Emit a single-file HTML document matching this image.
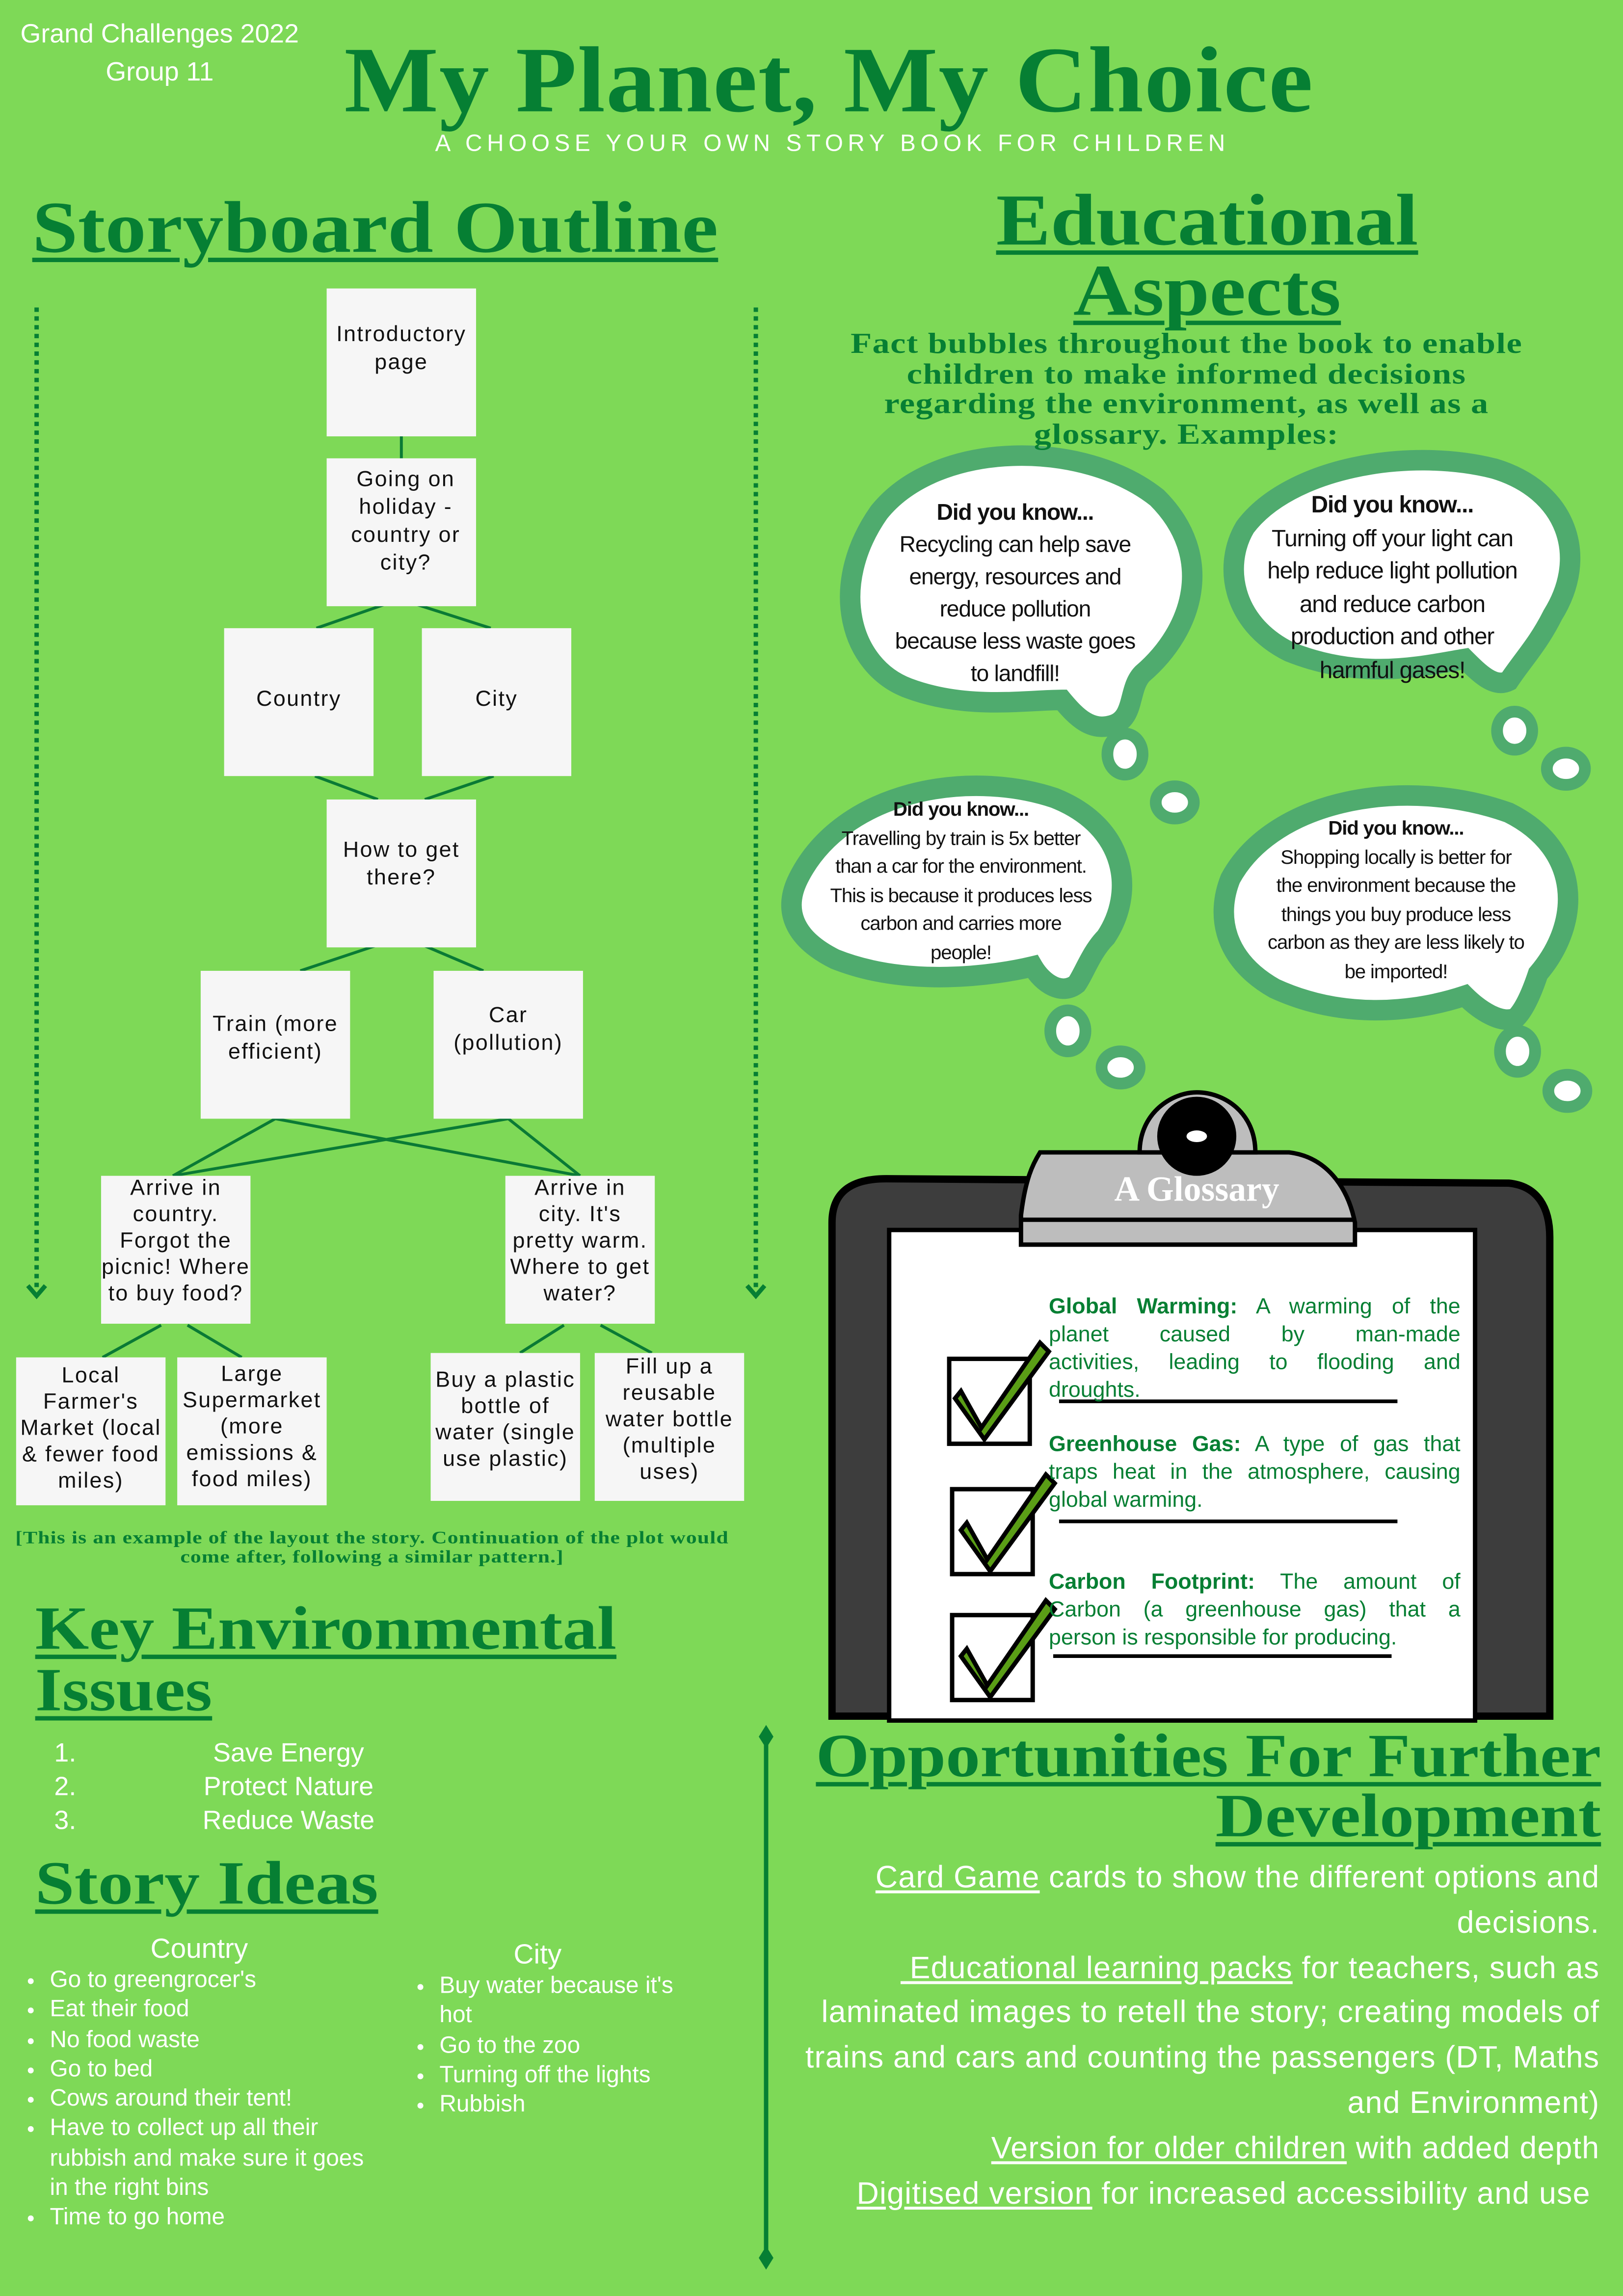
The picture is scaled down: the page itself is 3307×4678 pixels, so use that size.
<!DOCTYPE html>
<html><head><meta charset="utf-8"><style>
html,body{margin:0;padding:0;}
body{width:3307px;height:4678px;overflow:hidden;background:#7ed957;}
#d{position:absolute;left:0;top:0;width:1108px;height:1568px;transform:scale(2.9847,2.9834);transform-origin:0 0;background:#7ed957;font-family:"Liberation Sans",sans-serif;}
.a{position:absolute;}
.h{position:absolute;font-family:"Liberation Serif",serif;font-weight:bold;color:#067f33;text-decoration:underline;text-decoration-thickness:3px;text-underline-offset:4px;white-space:nowrap;transform-origin:0 0;}
.box{position:absolute;background:#f6f6f6;width:102px;height:101px;font-family:"Liberation Sans",sans-serif;font-size:15px;line-height:19px;text-align:center;color:#111;box-sizing:border-box;padding-top:2px;letter-spacing:0.8px;white-space:nowrap;}
.w{color:#fff;}
.bub{position:absolute;text-align:center;color:#111;white-space:nowrap;letter-spacing:-0.4px;}
ul{margin:0;padding-left:18px;}
.g div{text-align:justify;text-align-last:justify;height:19px;}
.g div.l{text-align-last:left;}
</style></head><body><div id="d">

<div class="a w" style="left:9px;top:10px;font-size:18px;line-height:26px;text-align:center;width:200px;">Grand Challenges 2022<br>Group 11</div>
<div class="h" style="left:235px;top:18px;font-size:64px;text-decoration:none;transform:scaleX(1.065);letter-spacing:0.5px;">My Planet, My Choice</div>
<div class="a w" style="left:297px;top:90px;font-size:16px;letter-spacing:3.2px;white-space:nowrap;">A CHOOSE YOUR OWN STORY BOOK FOR CHILDREN</div>

<div class="h" style="left:22px;top:126px;font-size:50px;transform:scaleX(1.12);">Storyboard Outline</div>

<svg class="a" style="left:0;top:0" width="1108" height="1568">
 <g stroke="#067f33" stroke-width="3" fill="none">
  <line x1="25" y1="210" x2="25" y2="880" stroke-dasharray="3,3"/>
  <polyline points="19,878 25,885 31,878"/>
  <line x1="516" y1="210" x2="516" y2="880" stroke-dasharray="3,3"/>
  <polyline points="510,878 516,885 522,878"/>
 </g>
 <g stroke="#0a7a35" stroke-width="2">
  <line x1="274" y1="298" x2="274" y2="313"/>
  <line x1="262" y1="413" x2="216" y2="429"/><line x1="285" y1="413" x2="335" y2="429"/>
  <line x1="215" y1="530" x2="258" y2="546"/><line x1="337" y1="530" x2="290" y2="546"/>
  <line x1="256" y1="646" x2="205" y2="663"/><line x1="290" y1="646" x2="330" y2="663"/>
  <line x1="188" y1="764" x2="118" y2="803"/><line x1="188" y1="764" x2="396" y2="803"/>
  <line x1="347" y1="764" x2="118" y2="803"/><line x1="347" y1="764" x2="396" y2="803"/>
  <line x1="110" y1="905" x2="70" y2="927"/><line x1="128" y1="905" x2="165" y2="927"/>
  <line x1="385" y1="905" x2="355" y2="924"/><line x1="410" y1="905" x2="445" y2="924"/>
 </g>
 <g fill="#067f33">
  <rect x="521.5" y="1185" width="3" height="355"/>
  <polygon points="523,1178 528,1186 523,1194 518,1186"/>
  <polygon points="523,1534 528,1542 523,1550 518,1542"/>
 </g>
 <g stroke="#4fab6e" stroke-width="14" fill="#fff">
  <path d="M600,350 C640,300 740,300 790,340 C830,380 815,430 780,460 C770,470 775,490 760,495 C745,500 735,490 725,478 C700,478 660,485 620,470 C580,455 565,400 600,350 Z"/>
  <path d="M850,360 C880,320 960,305 1020,320 C1070,335 1085,380 1060,420 C1050,440 1040,450 1030,465 C1020,470 1010,460 1000,450 C970,455 930,465 880,445 C840,425 835,385 850,360 Z"/>
  <path d="M545,600 C575,540 660,525 720,545 C770,565 775,610 755,640 C745,650 740,665 735,672 C725,680 712,672 705,660 C680,666 620,675 570,655 C540,640 535,620 545,600 Z"/>
  <path d="M840,600 C870,545 960,530 1030,555 C1080,580 1080,630 1050,665 C1045,680 1040,690 1035,695 C1025,700 1010,690 1000,680 C970,690 920,698 870,675 C835,655 830,625 840,600 Z"/>
 </g>
 <g stroke="#4fab6e" stroke-width="8" fill="#fff">
  <ellipse cx="768" cy="515" rx="12" ry="14"/><ellipse cx="802" cy="548" rx="13" ry="11"/>
  <ellipse cx="1034" cy="499" rx="12" ry="13"/><ellipse cx="1069" cy="525" rx="13" ry="11"/>
  <ellipse cx="729" cy="704" rx="12" ry="14"/><ellipse cx="765" cy="729" rx="13" ry="11"/>
  <ellipse cx="1036" cy="718" rx="12" ry="14"/><ellipse cx="1070" cy="745" rx="13" ry="11"/>
 </g>
 <path d="M568,835 C568,815 580,805 605,805 L1030,808 C1050,810 1058,825 1058,845 L1058,1172 L568,1172 Z" fill="#3d3d3d" stroke="#000" stroke-width="5"/>
 <rect x="607" y="840" width="400" height="335" fill="#fff" stroke="#000" stroke-width="3"/>
 <path d="M710,787 L880,787 C905,790 920,810 925,835 L925,850 L697,850 L697,830 C700,805 705,795 710,787 Z" fill="#bdbdbd" stroke="#000" stroke-width="3"/>
 <line x1="697" y1="833" x2="925" y2="833" stroke="#000" stroke-width="3"/>
 <path d="M778,787 C778,760 800,746 817,746 C836,746 857,760 857,787 Z" fill="#bdbdbd" stroke="#000" stroke-width="3"/>
 <circle cx="817" cy="776" r="27" fill="#000"/>
 <ellipse cx="817" cy="776" rx="7" ry="4" fill="#fff"/>
 <g stroke="#000" stroke-width="2.5">
  <line x1="723" y1="957" x2="954" y2="957"/>
  <line x1="723" y1="1039" x2="954" y2="1039"/>
  <line x1="719" y1="1131" x2="950" y2="1131"/>
 </g>
 <g>
  <rect x="648" y="928" width="55" height="58" fill="#fff" stroke="#000" stroke-width="3"/>
  <rect x="650" y="1017" width="55" height="58" fill="#fff" stroke="#000" stroke-width="3"/>
  <rect x="650" y="1103" width="55" height="58" fill="#fff" stroke="#000" stroke-width="3"/>
  <path d="M656,950 L670,975 L710,917 L716,923 L672,983 L652,955 Z" fill="#5a9e16" stroke="#000" stroke-width="3"/>
  <path d="M660,1040 L674,1065 L714,1007 L720,1013 L676,1073 L656,1045 Z" fill="#5a9e16" stroke="#000" stroke-width="3"/>
  <path d="M660,1126 L674,1151 L714,1093 L720,1099 L676,1159 L656,1131 Z" fill="#5a9e16" stroke="#000" stroke-width="3"/>
 </g>
</svg>

<div class="box" style="left:223px;top:197px;padding-top:22px;">Introductory<br>page</div>
<div class="box" style="left:223px;top:313px;padding:5px 0 0 6px;">Going on<br>holiday -<br>country or<br>city?</div>
<div class="box" style="left:153px;top:429px;padding-top:39px;">Country</div>
<div class="box" style="left:288px;top:429px;padding-top:39px;">City</div>
<div class="box" style="left:223px;top:546px;padding-top:25px;">How to get<br>there?</div>
<div class="box" style="left:137px;top:663px;padding-top:27px;">Train (more<br>efficient)</div>
<div class="box" style="left:296px;top:663px;padding-top:21px;">Car<br>(pollution)</div>
<div class="box" style="left:69px;top:803px;line-height:18px;padding-top:0;">Arrive in<br>country.<br>Forgot the<br>picnic! Where<br>to buy food?</div>
<div class="box" style="left:345px;top:803px;line-height:18px;padding-top:0;">Arrive in<br>city. It's<br>pretty warm.<br>Where to get<br>water?</div>
<div class="box" style="left:11px;top:927px;line-height:18px;padding-top:4px;">Local<br>Farmer's<br>Market (local<br>&amp; fewer food<br>miles)</div>
<div class="box" style="left:121px;top:927px;line-height:18px;padding-top:3px;">Large<br>Supermarket<br>(more<br>emissions &amp;<br>food miles)</div>
<div class="box" style="left:294px;top:924px;line-height:18px;padding-top:10px;">Buy a plastic<br>bottle of<br>water (single<br>use plastic)</div>
<div class="box" style="left:406px;top:924px;line-height:18px;padding-top:1px;">Fill up a<br>reusable<br>water bottle<br>(multiple<br>uses)</div>

<div class="a" style="left:8px;top:1044px;width:492px;text-align:center;font-family:'Liberation Serif',serif;font-weight:bold;font-size:12px;line-height:13px;color:#067f33;letter-spacing:0.3px;white-space:nowrap;transform:scaleX(1.22);transform-origin:50% 0;">[This is an example of the layout the story. Continuation of the plot would<br>come after, following a similar pattern.]</div>

<div class="h" style="left:24px;top:1092px;font-size:42px;line-height:42px;transform:scaleX(1.125);">Key Environmental<br>Issues</div>
<div class="a w" style="left:37px;top:1186px;font-size:18px;line-height:23px;">1.<br>2.<br>3.</div>
<div class="a w" style="left:97px;top:1186px;width:200px;text-align:center;font-size:18px;line-height:23px;">Save Energy<br>Protect Nature<br>Reduce Waste</div>
<div class="h" style="left:24px;top:1263px;font-size:42px;transform:scaleX(1.147);">Story Ideas</div>
<div class="a w" style="left:16px;top:1321px;width:270px;font-size:16px;line-height:20.3px;white-space:nowrap;">
 <div style="text-align:center;font-size:19px;line-height:22px;width:240px;">Country</div>
 <ul><li>Go to greengrocer's</li><li>Eat their food</li><li>No food waste</li><li>Go to bed</li><li>Cows around their tent!</li><li>Have to collect up all their<br>rubbish and make sure it goes<br>in the right bins</li><li>Time to go home</li></ul>
</div>
<div class="a w" style="left:282px;top:1325px;width:210px;font-size:16px;line-height:20.3px;white-space:nowrap;">
 <div style="text-align:center;font-size:19px;line-height:22px;width:170px;">City</div>
 <ul><li>Buy water because it's<br>hot</li><li>Go to the zoo</li><li>Turning off the lights</li><li>Rubbish</li></ul>
</div>

<div class="h" style="left:678px;top:126px;font-size:50px;line-height:48px;text-align:center;width:262px;transform:scaleX(1.115);">Educational<br>Aspects</div>
<div class="a" style="left:560px;top:225px;width:500px;text-align:center;font-family:'Liberation Serif',serif;font-weight:bold;font-size:20px;line-height:20.5px;color:#067f33;white-space:nowrap;letter-spacing:0.4px;transform:scaleX(1.18);transform-origin:50% 0;">Fact bubbles throughout the book to enable<br>children to make informed decisions<br>regarding the environment, as well as a<br>glossary. Examples:</div>

<div class="bub" style="left:593px;top:340px;width:200px;font-size:15.5px;line-height:22px;"><b>Did you know...</b><br>Recycling can help save<br>energy, resources and<br>reduce pollution<br>because less waste goes<br>to landfill!</div>
<div class="bub" style="left:848px;top:335px;width:205px;font-size:16px;line-height:22.5px;"><b>Did you know...</b><br>Turning off your light can<br>help reduce light pollution<br>and reduce carbon<br>production and other<br>harmful gases!</div>
<div class="bub" style="left:550px;top:543px;width:212px;font-size:13.5px;line-height:19.5px;"><b>Did you know...</b><br>Travelling by train is 5x better<br>than a car for the environment.<br>This is because it produces less<br>carbon and carries more<br>people!</div>
<div class="bub" style="left:848px;top:556px;width:210px;font-size:13.5px;line-height:19.5px;"><b>Did you know...</b><br>Shopping locally is better for<br>the environment because the<br>things you buy produce less<br>carbon as they are less likely to<br>be imported!</div>

<div class="a" style="left:697px;top:800px;width:240px;text-align:center;font-family:'Liberation Serif',serif;font-weight:bold;font-size:24px;color:#fff;">A Glossary</div>

<div class="a g" style="left:716px;top:883px;width:281px;font-size:15px;line-height:19px;color:#067f33;white-space:nowrap;">
 <div><b>Global Warming:</b> A warming of the</div>
 <div>planet caused by man-made</div>
 <div>activities, leading to flooding and</div>
 <div class="l">droughts.</div>
 <div class="l" style="height:18px"></div>
 <div><b>Greenhouse Gas:</b> A type of gas that</div>
 <div>traps heat in the atmosphere, causing</div>
 <div class="l">global warming.</div>
 <div class="l" style="height:37px"></div>
 <div><b>Carbon Footprint:</b> The amount of</div>
 <div>Carbon (a greenhouse gas) that a</div>
 <div class="l">person is responsible for producing.</div>
</div>

<div class="h" style="top:1180px;width:480px;text-align:right;font-size:42px;line-height:41px;transform:scaleX(1.117);transform-origin:100% 0;left:613px;">Opportunities For Further<br>Development</div>
<div class="a w" style="left:520px;top:1268px;width:572px;text-align:right;font-size:21px;line-height:30.8px;white-space:nowrap;letter-spacing:0.4px;">
<u>Card Game</u> cards to show the different options and<br>decisions.<br>
<u>&nbsp;Educational learning packs</u> for teachers, such as<br>laminated images to retell the story; creating models of<br>trains and cars and counting the passengers (DT, Maths<br>and Environment)<br>
<u>Version for older children</u> with added depth<br>
<u>Digitised version</u> for increased accessibility and use&nbsp;
</div>

</div></body></html>
